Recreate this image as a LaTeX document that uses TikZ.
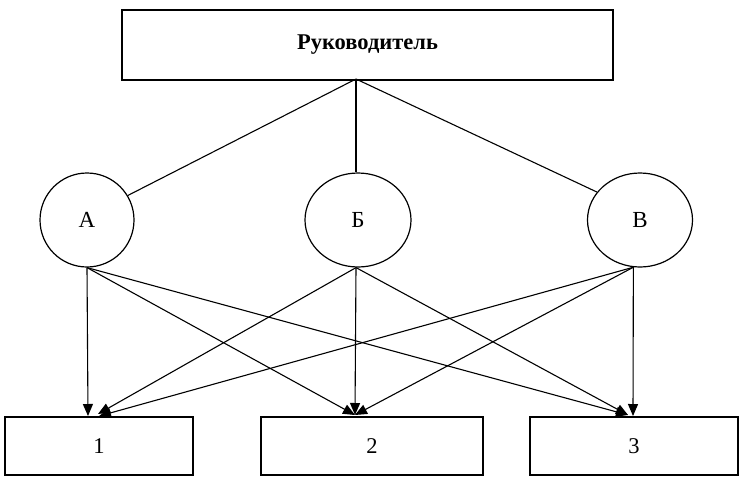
\documentclass[tikz,border=0pt]{standalone}
\usepackage{fontspec}
\setmainfont{Liberation Serif}
\usetikzlibrary{shapes.geometric,arrows.meta}
\begin{document}
\begin{tikzpicture}[x=1pt,y=-1pt,
  box/.style={draw,line width=1.8pt,rectangle,inner sep=0pt,font=\fontsize{22.5}{26}\selectfont},
  circ/.style={draw,line width=1.2pt,ellipse,inner sep=0pt,minimum height=94pt,font=\fontsize{23}{26}\selectfont},
  link/.style={line width=1.1pt},
  arr/.style={line width=1.1pt,-{Triangle[length=12pt,width=10pt]}}]
\useasboundingbox (0,0) rectangle (742,483);
\node[box,minimum width=491pt,minimum height=70pt] (top) at (367.5,45) {\textbf{Руководитель}};
\node[circ,minimum width=94pt] (A) at (87,220) {А};
\node[circ,minimum width=106pt] (B) at (358,220) {Б};
\node[circ,minimum width=105pt] (V) at (640,220) {В};
\node[box,minimum width=188pt,minimum height=58pt] (b1) at (99,446) {1};
\node[box,minimum width=222pt,minimum height=58pt] (b2) at (372,446) {2};
\node[box,minimum width=208pt,minimum height=58pt] (b3) at (634,446) {3};
\coordinate (j) at (356,79);
\coordinate (t1) at (88,416);
\coordinate (t1b) at (98,414);
\coordinate (t2) at (355,415);
\coordinate (t3) at (628,415);
\coordinate (t3v) at (633,416);
\draw[link] (j) -- (A.31);
\draw[link] (j) -- (B.north -| j);
\draw[link] (j) -- (V.147);
\draw[arr] (A.south) -- (t1);
\draw[arr] (A.south) -- (t2);
\draw[arr] (A.south) -- (t3);
\draw[arr] (B.south -| j) -- (t1b);
\draw[arr] (B.south -| j) -- (t2);
\draw[arr] (B.south -| j) -- (t3);
\draw[arr] (V.262) -- (b1.north);
\draw[arr] (V.262) -- (t2);
\draw[arr] (V.262) -- (t3v);
\end{tikzpicture}
\end{document}
